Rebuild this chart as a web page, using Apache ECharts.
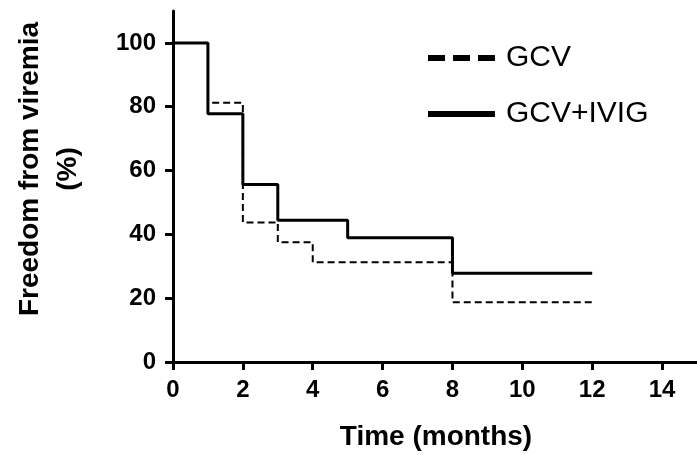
<!DOCTYPE html>
<html>
<head>
<meta charset="utf-8">
<script src="https://cdn.jsdelivr.net/npm/echarts@6/dist/echarts.min.js"></script>
<style>
  html, body { margin: 0; padding: 0; background: #fff; }
  #chart { width: 697px; height: 455px; }
</style>
</head>
<body>
<div id="chart"></div>
<script>
// Kaplan-Meier style step data
var gcvPoints = [[0, 100], [1, 81.25], [2, 43.75], [3, 37.5], [4, 31.25], [8, 18.75], [12, 18.75]];
var ivigPoints = [[0, 100], [1, 77.8], [2, 55.6], [3, 44.4], [5, 38.9], [8, 27.8], [12, 27.8]];
var seriesNames = ["GCV", "GCV+IVIG"];
var xTicks = [0, 2, 4, 6, 8, 10, 12, 14];
var yTicks = [0, 20, 40, 60, 80, 100];

var font = "Liberation Sans, Arial, Helvetica, sans-serif";
var myChart = echarts.init(document.getElementById("chart"));

var option = {
  animation: false,
  backgroundColor: "#fff",
  grid: { left: 173, right: 0, top: 11, bottom: 93, containLabel: false },
  legend: {
    orient: "vertical",
    left: 425,
    top: 40,
    padding: 0,
    itemWidth: 67,
    itemHeight: 14,
    itemGap: 20,
    textStyle: { fontFamily: font, fontSize: 30, color: "#000", lineHeight: 36, padding: [0, 0, 0, 6] },
    data: [
      { name: seriesNames[0], itemStyle: { opacity: 0 }, lineStyle: { color: "#000", width: 6, type: [17, 8] } },
      { name: seriesNames[1], itemStyle: { opacity: 0 }, lineStyle: { color: "#000", width: 6, type: "solid" } }
    ]
  },
  xAxis: {
    type: "value",
    min: 0,
    max: 15,
    interval: 1,
    axisLine: { show: true, lineStyle: { color: "#000", width: 3 } },
    axisTick: { show: true, length: 8, lineStyle: { color: "#000", width: 3 }, customValues: xTicks },
    axisLabel: { fontFamily: font, fontSize: 24, fontWeight: "bold", color: "#000", margin: 16, customValues: xTicks },
    splitLine: { show: false }
  },
  yAxis: {
    type: "value",
    min: 0,
    max: 110,
    interval: 10,
    axisLine: { show: true, lineStyle: { color: "#000", width: 3 } },
    axisTick: { show: true, length: 8, lineStyle: { color: "#000", width: 3 }, customValues: yTicks },
    axisLabel: { fontFamily: font, fontSize: 24, fontWeight: "bold", color: "#000", margin: 17, customValues: yTicks },
    splitLine: { show: false }
  },
  graphic: [
    {
      type: "text",
      x: 49, y: 169,
      rotation: Math.PI / 2,
      style: {
        text: "Freedom from viremia\n(%)",
        fontFamily: font, fontSize: 28, fontWeight: "bold", fill: "#000",
        align: "center", verticalAlign: "middle", lineHeight: 38
      }
    },
    {
      type: "text",
      x: 436, y: 437,
      style: {
        text: "Time (months)",
        fontFamily: font, fontSize: 28, fontWeight: "bold", fill: "#000",
        align: "center", verticalAlign: "middle"
      }
    }
  ],
  series: [
    {
      name: seriesNames[0],
      type: "line",
      step: "end",
      symbol: "none",
      data: gcvPoints,
      lineStyle: { color: "#000", width: 2, type: [7, 4] },
      itemStyle: { color: "#000" },
      z: 3
    },
    {
      name: seriesNames[1],
      type: "line",
      step: "end",
      symbol: "none",
      data: ivigPoints,
      lineStyle: { color: "#000", width: 3, type: "solid" },
      itemStyle: { color: "#000" },
      z: 4
    }
  ]
};
myChart.setOption(option);
</script>
</body>
</html>
